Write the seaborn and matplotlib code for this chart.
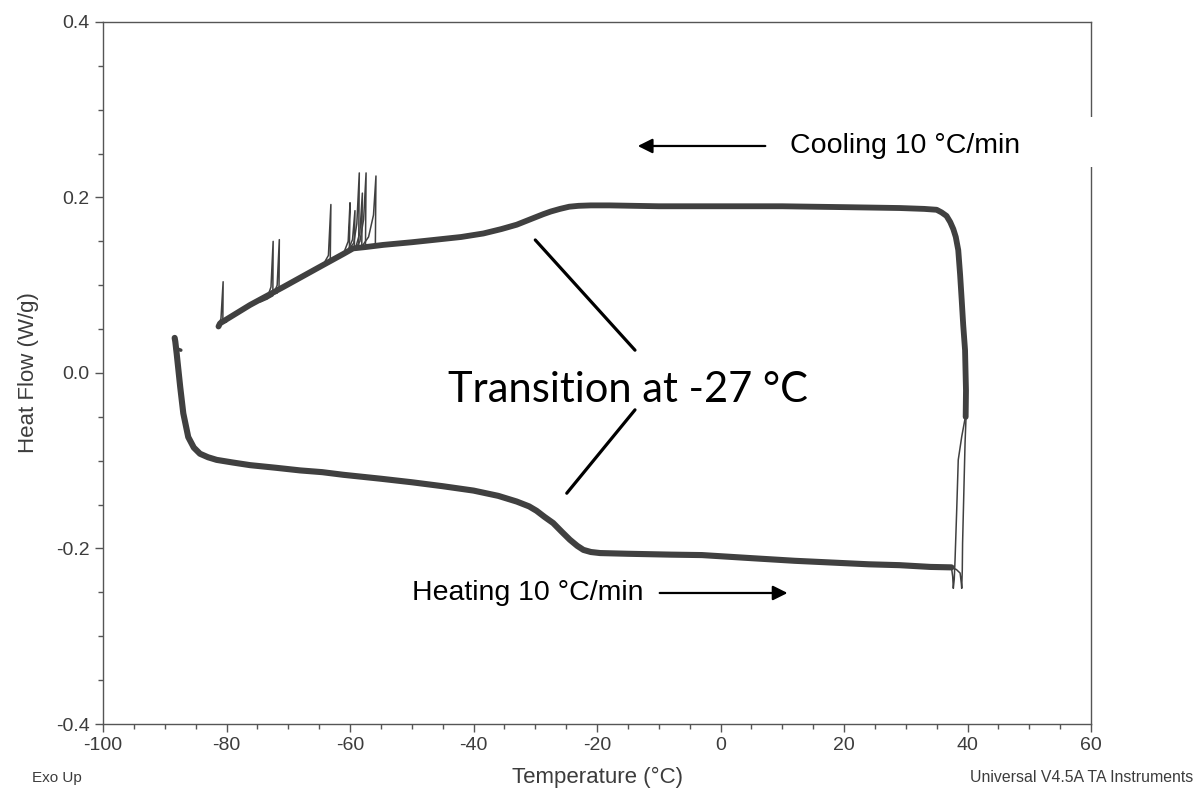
import numpy as np
import pandas as pd
import matplotlib
matplotlib.use("Agg")
import matplotlib.pyplot as plt
from matplotlib.patches import Rectangle
from matplotlib.ticker import MultipleLocator
import seaborn as sns

# ---- DSC cycle data: temperature (°C) vs heat flow (W/g) ----
# heating segment (left to right)
heat_T = [-88.4, -88.3, -88.07, -87.5, -87.0, -86.2, -85.3, -84.3, -83.0, -81.6,
          -79.0, -76.2, -72.0, -68.1, -64.5, -61.1, -55.0, -50.0, -45.0, -40.0,
          -36.0, -33.0, -31.0, -29.8, -28.5, -27.1, -25.7, -24.4, -23.2, -22.2,
          -21.0, -19.5, -15.0, -8.0, -3.0, 5.0, 12.0, 18.0, 24.0, 29.0, 34.0, 37.4]
heat_HF = [0.040, 0.036, 0.022, -0.016, -0.046, -0.073, -0.085, -0.092, -0.096, -0.099,
           -0.102, -0.105, -0.108, -0.111, -0.113, -0.116, -0.1205, -0.1245, -0.129, -0.134,
           -0.140, -0.1465, -0.152, -0.157, -0.164, -0.171, -0.181, -0.190, -0.197, -0.2016,
           -0.204, -0.2052, -0.206, -0.207, -0.2075, -0.211, -0.214, -0.216, -0.218, -0.219,
           -0.221, -0.2215]

# cooling segment (right to left)
cool_T = [39.7, 39.75, 39.6, 39.3, 39.06, 38.8, 38.5, 38.1, 37.7, 37.2, 36.6, 35.8, 35.0,
          33.0, 29.0, 20.0, 10.0, 0.0, -10.0, -18.0, -21.0, -23.0, -24.5, -26.0, -27.5,
          -28.7, -30.5, -33.0, -35.5, -38.4, -42.0, -46.5, -50.0, -54.6, -57.5, -59.5, -61.0,
          -65.4, -70.8, -76.2, -81.05, -81.3]
cool_HF = [-0.050, -0.020, 0.026, 0.055, 0.083, 0.112, 0.140, 0.155, 0.164, 0.172, 0.179, 0.183, 0.186,
           0.187, 0.188, 0.189, 0.190, 0.190, 0.190, 0.191, 0.191, 0.1905, 0.1895, 0.187, 0.184,
           0.181, 0.176, 0.169, 0.164, 0.159, 0.155, 0.1516, 0.149, 0.146, 0.1435, 0.142, 0.136,
           0.119, 0.098, 0.0775, 0.0566, 0.053]

# short isothermal hold at the low end
hold_T = [-88.3, -87.8, -87.4]
hold_HF = [0.028, 0.027, 0.026]

# two thin turnaround traces at the top of the heating ramp
turn1_T = [37.4, 37.6, 37.7, 37.85, 37.98, 38.25, 38.5, 39.06, 39.6, 39.75]
turn1_HF = [-0.2215, -0.232, -0.2454, -0.235, -0.213, -0.156, -0.099, -0.0726, -0.052, -0.031]
turn2_T = [37.4, 38.2, 38.8, 39.0, 39.06, 39.15, 39.2, 39.4, 39.6, 39.75, 39.8]
turn2_HF = [-0.2215, -0.224, -0.228, -0.240, -0.2454, -0.225, -0.194, -0.137, -0.080, -0.052, -0.020]

# crystallisation exotherms seen on individual cooling runs
spike_traces = [
    ([-80.0, -80.6, -80.55, -80.9, -81.4], [0.058, 0.057, 0.104, 0.062, 0.053]),
    ([-71.8, -72.5, -72.45, -72.8, -73.5, -74.5], [0.091, 0.090, 0.150, 0.098, 0.084, 0.081]),
    ([-70.8, -71.5, -71.45, -71.8, -72.5, -73.5], [0.096, 0.094, 0.152, 0.100, 0.088, 0.084]),
    ([-62.5, -63.2, -63.1, -63.5, -64.3], [0.130, 0.128, 0.192, 0.134, 0.124]),
    ([-59.5, -60.1, -60.0, -60.3, -61.0], [0.142, 0.141, 0.194, 0.150, 0.137]),
    ([-58.8, -59.3, -59.2, -59.6, -60.3], [0.143, 0.142, 0.185, 0.152, 0.140]),
    ([-58.0, -58.6, -58.5, -58.9, -59.4, -60.2], [0.143, 0.142, 0.228, 0.170, 0.148, 0.141]),
    ([-57.6, -58.1, -58.0, -58.4, -59.0], [0.144, 0.143, 0.205, 0.160, 0.145]),
    ([-56.9, -57.5, -57.4, -57.8, -58.4, -59.0], [0.144, 0.143, 0.228, 0.175, 0.150, 0.143]),
    ([-55.4, -55.9, -55.8, -56.2, -57.0, -58.0], [0.145, 0.144, 0.2245, 0.180, 0.155, 0.145]),
]

x_ticks = [-100, -80, -60, -40, -20, 0, 20, 40, 60]
y_ticks = [-0.4, -0.2, 0.0, 0.2, 0.4]

# ---- styling ----
sns.set_theme(style="ticks")
plt.rcParams["font.family"] = ["Liberation Sans", "DejaVu Sans"]

CURVE = "#404040"
AXIS = "#555555"
LABEL = "#3c3c3c"

fig = plt.figure(figsize=(11.98, 7.91), dpi=100)
ax = fig.add_axes([0.086, 0.0847, 0.8247, 0.8875])

def draw(T, HF, lw):
    df = pd.DataFrame({"T": T, "HF": HF})
    sns.lineplot(data=df, x="T", y="HF", sort=False, estimator=None,
                 color=CURVE, lw=lw, ax=ax, solid_capstyle="round",
                 solid_joinstyle="round")

for T, HF in spike_traces:
    draw(T, HF, 1.1)
draw(turn1_T, turn1_HF, 1.1)
draw(turn2_T, turn2_HF, 1.1)
draw(heat_T, heat_HF, 4.4)
draw(cool_T, cool_HF, 4.2)
draw(hold_T, hold_HF, 2.5)

ax.set_xlim(x_ticks[0], x_ticks[-1])
ax.set_ylim(y_ticks[0], y_ticks[-1])
ax.set_xticks(x_ticks)
ax.set_yticks(y_ticks)
ax.set_xticklabels([f"{v:d}" for v in x_ticks])
ax.set_yticklabels([f"{v:.1f}" for v in y_ticks])
ax.xaxis.set_minor_locator(MultipleLocator(5))
ax.yaxis.set_minor_locator(MultipleLocator(0.05))
ax.tick_params(which="major", direction="out", length=6, width=1.0, color=AXIS,
               labelsize=14, labelcolor=LABEL, pad=3.5)
ax.tick_params(which="minor", direction="out", length=3.5, width=1.0, color=AXIS)
for s in ax.spines.values():
    s.set_visible(True)
    s.set_color(AXIS)
    s.set_linewidth(1.0)

ax.set_xlabel("Temperature (°C)", fontsize=16, color=LABEL, labelpad=9)
ax.set_ylabel("Heat Flow (W/g)", fontsize=16, color=LABEL, labelpad=12)

fig.text(0.027, 0.012, "Exo Up", fontsize=11, color=LABEL, ha="left", va="baseline")
fig.text(0.996, 0.012, "Universal V4.5A TA Instruments", fontsize=11.4, color=LABEL,
         ha="right", va="baseline")

# rate annotations
ax.add_patch(Rectangle((0.685, 0.7934), 0.32, 0.0713, transform=ax.transAxes,
                       facecolor="white", edgecolor="none", clip_on=False, zorder=5))
ax.text(11.3, 0.2587, "Cooling 10 °C/min", fontsize=20.5, color="black",
        ha="left", va="center", zorder=6)
ax.annotate("", xy=(-13.85, 0.2587), xytext=(7.7, 0.2587),
            arrowprops=dict(arrowstyle="-|>", color="black", lw=1.6, mutation_scale=22))

ax.text(-50.0, -0.2507, "Heating 10 °C/min", fontsize=20.5, color="black",
        ha="left", va="center", zorder=6)
ax.annotate("", xy=(11.3, -0.2507), xytext=(-10.3, -0.2507),
            arrowprops=dict(arrowstyle="-|>", color="black", lw=1.6, mutation_scale=22))

# transition callout
ax.text(-15.0, -0.019, "Transition at -27 °C", fontsize=30, color="black",
        family=["Lato", "DejaVu Sans"], ha="center", va="center", zorder=6)
ax.plot([-30.0, -13.85], [0.1516, 0.026], color="black", lw=2.3, zorder=6)
ax.plot([-13.85, -24.9], [-0.042, -0.137], color="black", lw=2.3, zorder=6)

fig.savefig("out.png", dpi=100, facecolor="white")
